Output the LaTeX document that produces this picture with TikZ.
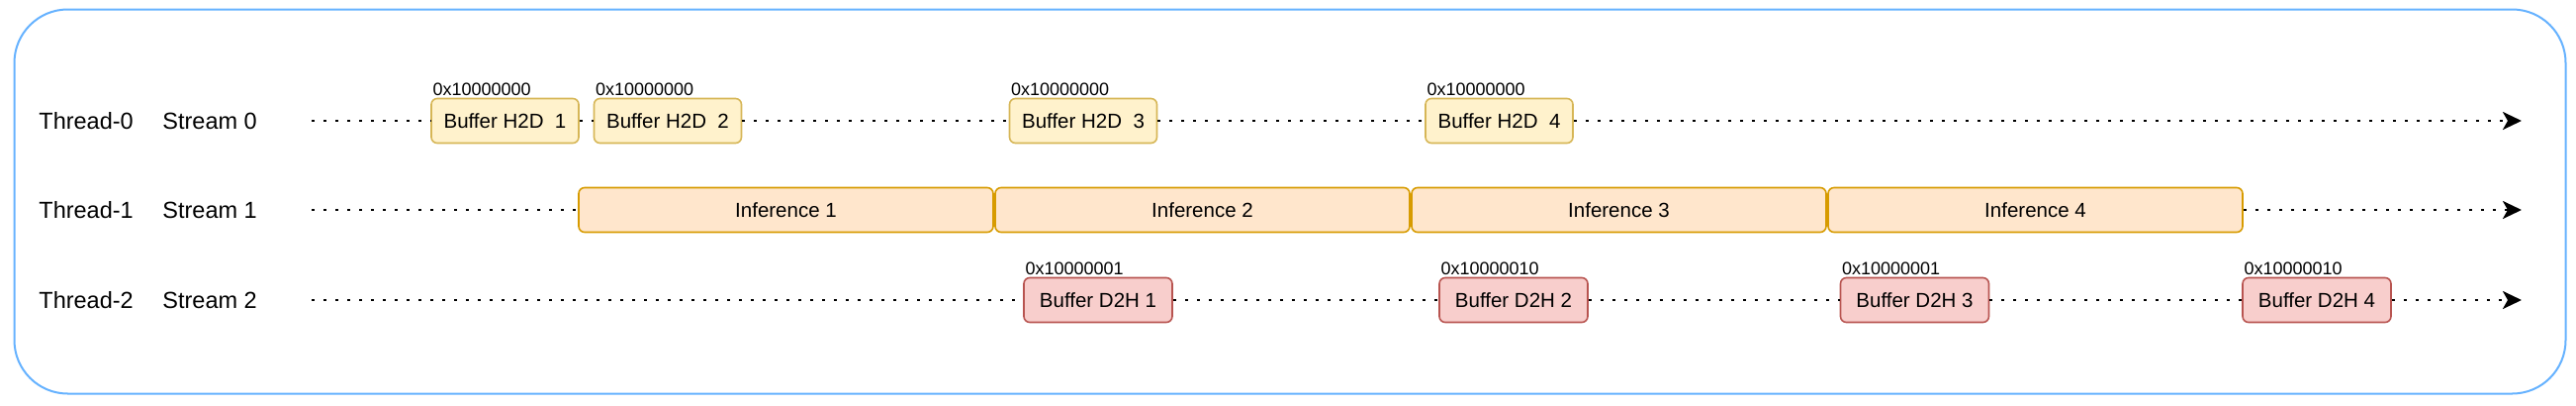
\documentclass[tikz,border=0pt]{standalone}
\usepackage{fontspec}
\setmainfont{Liberation Sans}
\usetikzlibrary{arrows.meta}
\definecolor{outerblue}{HTML}{66B2FF}
\definecolor{hfill}{HTML}{FFF2CC}
\definecolor{hdraw}{HTML}{D6B656}
\definecolor{ifill}{HTML}{FFE6CC}
\definecolor{idraw}{HTML}{D79B00}
\definecolor{dfill}{HTML}{F8CECC}
\definecolor{ddraw}{HTML}{B85450}
\begin{document}
\begin{tikzpicture}[x=0.5pt,y=-0.5pt,
  box/.style={rectangle, rounded corners=3pt, line width=0.8pt, minimum height=22.5pt, inner sep=0pt, font=\fontsize{10.25}{12}\selectfont},
  h2d/.style={box, draw=hdraw, fill=hfill, minimum width=74.5pt},
  d2h/.style={box, draw=ddraw, fill=dfill, minimum width=75pt},
  inf/.style={box, draw=idraw, fill=ifill, minimum width=209.5pt},
  addr/.style={anchor=base west, inner sep=0pt, font=\fontsize{9}{11}\selectfont},
  lbl/.style={anchor=base west, inner sep=0pt, font=\fontsize{11.75}{14}\selectfont},
  dotline/.style={line width=1.45pt, dash pattern=on 1.45pt off 4.55pt},
  arr/.style={dotline, -{Stealth[length=9.5pt,width=9pt,inset=2.5pt]}},
  frame/.style={draw=outerblue, line width=1pt, rounded corners=27pt}
]
\useasboundingbox (0,0) rectangle (2604,409);
\draw[frame] (14.5,9.5) rectangle (2593.5,397.5);

% row labels
\node[lbl] (t0) at (39,130.5) {Thread-0};
\node[lbl] (s0) at (164,130.5) {Stream 0};
\node[lbl] (t1) at (39,220.5) {Thread-1};
\node[lbl] (s1) at (164,220.5) {Stream 1};
\node[lbl] (t2) at (39,311.5) {Thread-2};
\node[lbl] (s2) at (164,311.5) {Stream 2};

% start / end coordinates
\coordinate (st0) at (315,122);
\coordinate (st1) at (315,212);
\coordinate (st2) at (315,303);
\coordinate (en0) at (2549,122);
\coordinate (en1) at (2549,212);
\coordinate (en2) at (2549,303);

% stream 0 boxes
\node[h2d] (h1) at (510.5,122) {Buffer H2D~~1};
\node[h2d] (h2) at (675,122) {Buffer H2D~~2};
\node[h2d] (h3) at (1095,122) {Buffer H2D~~3};
\node[h2d] (h4) at (1515.5,122) {Buffer H2D~~4};
\node[addr] (ah1) at ([xshift=1pt,yshift=1pt]h1.north west) {0x10000000};
\node[addr] (ah2) at ([xshift=1pt,yshift=1pt]h2.north west) {0x10000000};
\node[addr] (ah3) at ([xshift=1pt,yshift=1pt]h3.north west) {0x10000000};
\node[addr] (ah4) at ([xshift=1pt,yshift=1pt]h4.north west) {0x10000000};

% stream 1 boxes
\node[inf] (i1) at (794.5,212) {Inference 1};
\node[inf] (i2) at (1215.5,212) {Inference 2};
\node[inf] (i3) at (1636.5,212) {Inference 3};
\node[inf] (i4) at (2057.5,212) {Inference 4};

% stream 2 boxes
\node[d2h] (d1) at (1110,303) {Buffer D2H 1};
\node[d2h] (d2) at (1530,303) {Buffer D2H 2};
\node[d2h] (d3) at (1935.5,303) {Buffer D2H 3};
\node[d2h] (d4) at (2342,303) {Buffer D2H 4};
\node[addr] (ad1) at ([xshift=1pt,yshift=1pt]d1.north west) {0x10000001};
\node[addr] (ad2) at ([xshift=1pt,yshift=1pt]d2.north west) {0x10000010};
\node[addr] (ad3) at ([xshift=1pt,yshift=1pt]d3.north west) {0x10000001};
\node[addr] (ad4) at ([xshift=1pt,yshift=1pt]d4.north west) {0x10000010};

% connectors
\draw[dotline] (st0) -- (h1.west);
\draw[dotline] (h1.east) -- (h2.west);
\draw[dotline] (h2.east) -- (h3.west);
\draw[dotline] (h3.east) -- (h4.west);
\draw[arr] (h4.east) -- (en0);

\draw[dotline] (st1) -- (i1.west);
\draw[arr] (i4.east) -- (en1);

\draw[dotline] (st2) -- (d1.west);
\draw[dotline] (d1.east) -- (d2.west);
\draw[dotline] (d2.east) -- (d3.west);
\draw[dotline] (d3.east) -- (d4.west);
\draw[arr] (d4.east) -- (en2);
\end{tikzpicture}
\end{document}
